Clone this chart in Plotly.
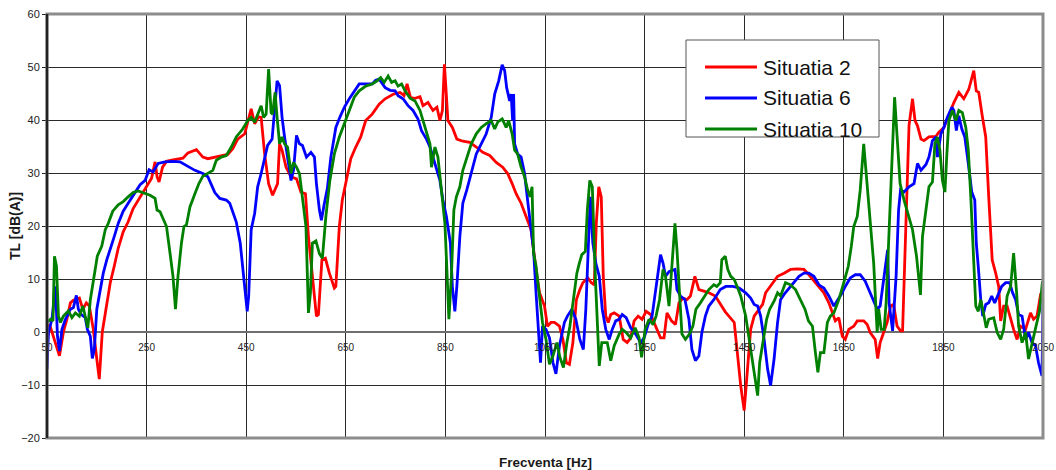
import plotly.graph_objects as go

# ---------------- data ----------------
series_names = ["Situatia 2", "Situatia 6", "Situatia 10"]

red_hz = [50, 55, 75, 83, 90, 97, 103, 115, 122, 129, 135, 143, 150, 155, 161, 170, 177, 185, 193, 203,
          213, 223, 237, 249, 260, 267, 271, 275, 282, 290, 303, 323, 333, 350, 363, 373, 387, 397, 413, 423,
          433, 447, 460, 467, 475, 480, 487, 495, 503, 513, 517, 522, 530, 540, 551, 560, 569, 575, 583, 591,
          595, 602, 609, 617, 627, 630, 637, 643, 651, 660, 670, 680, 690, 703, 717, 729, 746, 759, 767, 773,
          780, 789, 799, 805, 815, 825, 833, 839, 844, 848, 852, 855, 864, 873, 885, 899, 912, 925, 939, 952,
          965, 975, 984, 992, 1002, 1012, 1022, 1032, 1039, 1049, 1055, 1062, 1069, 1079, 1086, 1093, 1099, 1106, 1113, 1120,
          1126, 1136, 1143, 1149, 1153, 1158, 1163, 1167, 1172, 1177, 1182, 1189, 1199, 1207, 1215, 1222, 1229, 1237, 1245, 1253,
          1262, 1272, 1282, 1289, 1295, 1304, 1312, 1319, 1327, 1335, 1342, 1351, 1359, 1369, 1379, 1392, 1400, 1412, 1430, 1437,
          1443, 1450, 1455, 1463, 1470, 1480, 1487, 1493, 1503, 1517, 1530, 1543, 1557, 1570, 1580, 1590, 1600, 1610, 1620, 1627,
          1633, 1640, 1647, 1653, 1660, 1670, 1677, 1690, 1697, 1703, 1713, 1718, 1723, 1730, 1737, 1744, 1750, 1757, 1764, 1768,
          1775, 1781, 1788, 1793, 1798, 1805, 1811, 1821, 1835, 1841, 1851, 1861, 1871, 1881, 1891, 1901, 1911, 1916, 1921, 1928,
          1935, 1941, 1948, 1955, 1961, 1965, 1971, 1978, 1985, 1991, 1998, 2005, 2015, 2025, 2031, 2038, 2045, 2050]
red_tl = [-2, 1.5, -4.5, 0, 2.4, 5.5, 6, 6.4, 4.3, 5.5, 4.9, 0.5, -5.1, -8.9, 0, 5.5, 9.3, 12.4, 15.8, 18.9,
          20.8, 23.3, 25.5, 27.4, 29, 32.1, 29.3, 28.3, 31.1, 32.2, 32.5, 32.8, 33.8, 34.4, 33, 32.7, 33, 33.2, 33.5, 34.6,
          36.4, 37.4, 42.1, 39.3, 40.6, 40.5, 33.6, 28, 25.8, 28, 35.5, 34.3, 31.1, 29.3, 28.9, 26.4, 26.1, 18, 10.5, 3,
          3.3, 13.6, 13.9, 11.1, 8.3, 8.6, 19.9, 24.9, 28.6, 32.7, 34.9, 36.8, 39.9, 41.1, 43, 44, 44.9, 45.2, 44.6, 46.8,
          44.2, 44.1, 44.4, 42.7, 43.3, 41.8, 42.4, 39.9, 41.8, 50.5, 44.6, 39.9, 38.6, 36.4, 36, 35.8, 34.9, 33.9, 33.3, 32,
          31.1, 29.9, 28, 26.1, 24.3, 21.8, 19.3, 11.8, 7.4, 4.9, 1.1, 1.8, 1.8, 1.1, -1.4, -5.8, -6.1, -2, 6.1, 8,
          9.3, 10.2, 9.3, 8.9, 20.5, 27.4, 25.5, 10.5, 3, 1.8, 3.3, 3.6, 3, -1.4, -2, -1.1, 2.1, 3, 2.4, 3.9,
          3.3, 1.1, -1.1, -1.1, 3.6, 2.1, 1.4, 5.5, 6.4, 6.1, 6.8, 10.5, 8, 7.7, 7.4, 6.8, 5.5, 3.8, 1.8, -5.1,
          -10.1, -14.8, -8.4, 0.5, 3, 4.3, 5.2, 7.4, 8.6, 10.5, 11.1, 11.8, 11.9, 11.8, 10.8, 9.6, 8.6, 7.4, 5.5, 3.7,
          2.1, 2.7, -0.8, -1.4, 0.5, 1.1, 2.1, 2.1, 1.4, -0.1, -1.4, -5, -2, -0.1, 1.8, 4.9, 5.2, 1.1, 0.2, 0.2,
          23, 39, 44, 39.9, 38.9, 36.4, 36.1, 36.8, 36.9, 37.7, 38.6, 41.1, 43.3, 45.2, 44, 45.8, 49.3, 45.5, 45.2, 40.8,
          36.8, 25.5, 13.6, 11.1, 8.6, 2.1, 4.9, 4.9, 2.4, 0.5, -1.4, 1.1, 0.5, 3.6, 2.4, 3, 7, 6.8]

blue_hz = [50, 53, 60, 67, 71, 75, 80, 87, 97, 103, 109, 113, 119, 127, 131, 137, 141, 145, 150, 157,
           163, 170, 177, 185, 193, 203, 213, 223, 237, 247, 255, 263, 273, 287, 303, 317, 330, 347, 363, 373,
           380, 387, 397, 410, 417, 422, 430, 438, 443, 449, 452, 455, 460, 467, 473, 480, 487, 493, 502, 508,
           512, 517, 522, 527, 533, 540, 545, 551, 557, 563, 571, 580, 587, 591, 597, 601, 607, 613, 620, 630,
           638, 647, 657, 667, 677, 690, 703, 710, 717, 729, 739, 749, 755, 765, 775, 785, 795, 802, 812, 819,
           825, 832, 839, 845, 852, 860, 864, 869, 873, 879, 885, 893, 902, 912, 922, 932, 942, 949, 957, 964,
           969, 973, 979, 982, 985, 987, 989, 995, 1002, 1009, 1015, 1022, 1027, 1032, 1037, 1041, 1045, 1052, 1059, 1066,
           1072, 1079, 1089, 1095, 1104, 1112, 1120, 1127, 1132, 1137, 1141, 1146, 1152, 1159, 1165, 1172, 1179, 1185, 1192, 1199,
           1205, 1213, 1222, 1232, 1242, 1249, 1257, 1265, 1273, 1282, 1287, 1292, 1299, 1311, 1315, 1322, 1331, 1339, 1345, 1352,
           1359, 1365, 1372, 1379, 1389, 1395, 1402, 1413, 1427, 1440, 1453, 1463, 1470, 1477, 1483, 1490, 1497, 1503, 1510, 1517,
           1523, 1530, 1540, 1550, 1560, 1570, 1580, 1590, 1600, 1610, 1620, 1630, 1639, 1645, 1653, 1663, 1673, 1683, 1693, 1703,
           1710, 1717, 1723, 1731, 1738, 1741, 1748, 1755, 1760, 1764, 1771, 1781, 1791, 1798, 1805, 1815, 1821, 1828, 1835, 1838,
           1845, 1851, 1858, 1867, 1871, 1876, 1881, 1887, 1893, 1900, 1907, 1913, 1916, 1920, 1925, 1929, 1935, 1941, 1947, 1953,
           1960, 1967, 1975, 1983, 1989, 1995, 2001, 2008, 2015, 2021, 2028, 2035, 2041, 2048, 2050]
blue_tl = [-7, 0, 2.4, 8.6, -0.8, -3.6, 0.5, 2.4, 4.3, 4.6, 6.9, 4.3, 3.3, 2.7, 0.5, -0.8, -5, -3.3, 4.3, 8,
           11.1, 13.6, 15.5, 18, 20.5, 22.8, 24.3, 25.8, 27.8, 28.6, 30.6, 30.2, 31.8, 32.1, 32.2, 32.1, 31.4, 30.5, 29.9, 29.3,
           27.8, 26.3, 25.2, 24.9, 24.3, 22.8, 20.8, 16.8, 11.8, 5.5, 3.9, 6.8, 19.3, 22.4, 27.4, 29.9, 33, 35.2, 36.4, 42.4,
           47.4, 46.5, 40.5, 36.8, 33, 28.6, 30.5, 37.1, 35.5, 35.2, 33, 33.9, 33, 28, 23, 21.1, 24.3, 27.1, 33, 38.6,
           40.5, 42.4, 44, 45.5, 46.8, 46.8, 46.8, 47.5, 47.7, 46.1, 45.6, 45.5, 44.6, 44, 42.7, 41.8, 40.2, 38, 36.4, 34.9,
           33, 31.1, 28.6, 24.9, 21.8, 16.8, 8.6, 3.9, 8.6, 18, 24.3, 26.8, 29.9, 33.6, 35.5, 37.4, 40.5, 44.9, 47.4, 50.4,
           49.3, 46.1, 43.6, 44.9, 39.9, 44.9, 35.5, 33.6, 33, 29.9, 24.9, 19.9, 15.5, 7.4, 0.5, -5.8, 1.1, 0.5, -1.1, -5.8,
           -7.9, -2.6, 1.8, 3, 4.3, 2.4, -1.4, -3.3, 4.3, 15.5, 25.5, 16.8, 13, 10.5, 4.3, 0.5, -1.4, 0.5, 2.1, 2.4,
           3.3, 2.7, 0.8, -0.4, -2, -1.1, 1.4, 3, 8.6, 14.6, 13, 10.5, 11.4, 11.8, 8, 6.8, 6.1, 2.4, -3.3, -5.4,
           -4.5, -0.1, 3, 4.9, 6.1, 7.1, 8, 8.6, 8.6, 8.3, 7.4, 6.4, 5.2, 4.9, 3, -1.4, -7, -10.1, -5.1, 1.8,
           6.1, 7.1, 8.3, 9.3, 10.5, 11.1, 11.1, 10.5, 8.9, 8.3, 6.8, 4.9, 6.1, 7.1, 8.6, 10.2, 10.8, 10.8, 9.6, 7.4,
           6.1, 4.3, 4.9, 11.1, 15.5, 5.5, 0.2, 10.5, 23, 26.8, 26.4, 27.4, 28, 31.8, 30.5, 31.6, 33, 36.1, 36.8, 33,
           37.4, 38.6, 40.5, 42.4, 41.8, 38, 40.8, 38.3, 36.8, 31.8, 26.4, 24.9, 16.8, 12.4, 6.1, 3, 5.2, 5.5, 6.8, 5.5,
           7.1, 8.6, 9.3, 9.3, 7.4, 6.1, 3.3, 3, -1.4, -0.1, -2, -2.6, -5.8, -8.3, 5.5]

green_hz = [50, 57, 62, 65, 69, 73, 77, 83, 93, 100, 107, 115, 122, 127, 132, 137, 143, 151, 160, 167,
            173, 182, 193, 203, 213, 223, 233, 243, 257, 267, 271, 277, 283, 290, 297, 303, 308, 313, 320, 325,
            330, 337, 347, 355, 363, 373, 383, 390, 400, 410, 420, 430, 443, 453, 460, 467, 473, 480, 485, 490,
            495, 500, 503, 508, 512, 517, 522, 527, 533, 540, 545, 551, 557, 563, 570, 575, 579, 583, 590, 597,
            603, 610, 618, 627, 637, 647, 657, 667, 677, 690, 703, 713, 720, 727, 735, 742, 749, 755, 762, 769,
            779, 789, 799, 805, 812, 819, 822, 829, 835, 839, 844, 849, 853, 857, 862, 867, 872, 879, 885, 893,
            902, 912, 922, 932, 942, 949, 955, 964, 972, 977, 984, 989, 995, 1002, 1009, 1015, 1020, 1024, 1027, 1032,
            1039, 1045, 1052, 1059, 1066, 1074, 1080, 1087, 1094, 1100, 1107, 1114, 1119, 1124, 1131, 1135, 1140, 1145, 1151, 1155,
            1159, 1164, 1175, 1182, 1189, 1199, 1205, 1213, 1222, 1231, 1239, 1244, 1251, 1259, 1267, 1273, 1280, 1287, 1292, 1299,
            1305, 1311, 1315, 1320, 1325, 1332, 1340, 1347, 1353, 1362, 1371, 1379, 1389, 1395, 1402, 1405, 1412, 1417, 1423, 1430,
            1437, 1443, 1453, 1460, 1467, 1473, 1477, 1481, 1488, 1495, 1501, 1510, 1517, 1523, 1533, 1543, 1553, 1563, 1572, 1579,
            1587, 1593, 1598, 1603, 1610, 1617, 1623, 1630, 1640, 1650, 1659, 1665, 1670, 1677, 1683, 1690, 1697, 1703, 1710, 1717,
            1720, 1725, 1731, 1735, 1741, 1747, 1752, 1758, 1763, 1771, 1781, 1788, 1796, 1800, 1804, 1808, 1815, 1821, 1828, 1833,
            1838, 1843, 1848, 1853, 1857, 1861, 1868, 1875, 1881, 1888, 1895, 1900, 1905, 1909, 1915, 1920, 1925, 1931, 1936, 1941,
            1951, 1958, 1965, 1971, 1978, 1985, 1991, 1997, 2001, 2008, 2015, 2021, 2028, 2036, 2043, 2049]
green_tl = [1.8, 2.4, 2.1, 14.3, 12.4, 3, 1.8, 3, 4, 2.7, 3.6, 3, 4.9, 3, 0.8, 6.1, 9.6, 14.3, 16.2, 19.3,
            20.5, 22.8, 24, 24.6, 25.5, 26.3, 26.6, 26.3, 25.8, 25.2, 23, 22.7, 21.4, 19.9, 14.9, 10.5, 4.3, 10.5, 16.8, 19.9,
            20.2, 23.6, 26.1, 28, 29.4, 29.9, 30.5, 32.4, 33, 33.3, 34.9, 36.8, 38.3, 39.9, 40.5, 39.6, 41.1, 42.7, 40.5, 41.1,
            49.6, 41.4, 41.1, 45.2, 40.5, 35.5, 36.8, 35.5, 34.9, 29.9, 32, 31.1, 29.9, 25.5, 19.9, 3.6, 7.4, 16.8, 17.2, 14.8,
            13.9, 21.8, 28.6, 33.6, 36.8, 39.3, 41.8, 44.3, 45.5, 46.4, 46.8, 47.4, 48, 47.1, 48.3, 47.1, 47.4, 46.4, 46.8, 45.5,
            44.1, 43.6, 41.8, 39.9, 37.4, 35.5, 31.1, 34.9, 33, 29.3, 25.5, 20.5, 11.8, 2.4, 10.5, 23, 25.5, 27.4, 30.5, 33,
            35.5, 37.4, 38.6, 39.3, 39.9, 38.3, 39.6, 40.2, 38.6, 39.9, 37.4, 34.3, 33.6, 31.1, 29.3, 26.8, 25.5, 27.4, 14.9, 12.4,
            6.8, 1.8, -1.4, -6.1, -4.5, -2, -4.8, -6.7, -2, 1.1, 6.1, 11.1, 13, 14.6, 15.2, 23, 28.6, 27.4, 10.5, 1.1,
            -6.4, -2, -2, -5.4, -2.6, -0.4, 0.5, -0.1, -1.1, 0.8, -1.1, -4.8, 0.5, 2.4, 1.4, 3, 6.1, 11.8, 10.5, 4.9,
            13, 20.5, 15.5, 7.4, -0.4, -1.4, -0.4, 1.1, 4.3, 5.5, 6.8, 8, 8.9, 8.6, 9.3, 13.6, 14.3, 11.8, 10.5, 9.9,
            8.3, 6.8, 3, -1.4, -5.8, -9.5, -12, -5.8, -1.4, 2.4, 4.3, 5.8, 7.4, 6.8, 9.3, 8.9, 8, 6.1, 4.3, 2.1,
            1.1, -3.9, -7.6, -3.9, -3.9, 1.8, 3, 3.6, 6.1, 9.3, 12.4, 16.1, 19.9, 21.8, 26.8, 35.5, 28, 20.5, 13, -0.1,
            4.3, 0.5, 0.5, 5.5, 19.9, 32.4, 44.3, 35.5, 28, 24.9, 21.8, 19.3, 14.3, 10.5, 7, 18, 23, 27.4, 28.3, 35.5,
            36.8, 34.3, 28.6, 26.4, 33.6, 39.9, 41.8, 39.9, 41.8, 41.4, 38.6, 34.3, 25.5, 16.8, 4.9, 3.9, 6.1, 3.3, 0.8, 2.4,
            2.7, -0.1, -1.4, 0.5, 6.8, 8.6, 14.9, 7.4, 1.1, -2, -0.1, -5.1, -2, 1.1, 3.9, 9.6]

x_range = [50, 2050]
y_range = [-20, 60]
x_title = "Frecventa [Hz]"
y_title = "TL [dB(A)]"

# ---------------- figure ----------------
FONT = "Liberation Sans, Arial, sans-serif"
colors = ["#FF0000", "#0000FF", "#008000"]

fig = go.Figure()
for name, hz, tl, col in zip(series_names, [red_hz, blue_hz, green_hz],
                             [red_tl, blue_tl, green_tl], colors):
    fig.add_trace(go.Scatter(x=hz, y=tl, mode="lines", name=name,
                             line=dict(color=col, width=2.8), showlegend=False))

L, R, T, B = 47, 13, 14, 32
W, H = 1056, 470
pw, ph = W - L - R, H - T - B


def px_x(p):
    return (p - L) / pw


def px_y(p):
    return (H - B - p) / ph


fig.update_layout(
    template="none",
    width=W, height=H,
    margin=dict(l=L, r=R, t=T, b=B, pad=0, autoexpand=False),
    paper_bgcolor="white", plot_bgcolor="white",
    font=dict(family=FONT, color="#1a1a1a"),
    showlegend=False,
    xaxis=dict(range=x_range, tick0=50, dtick=200, showgrid=True, gridcolor="#2a2a2a", gridwidth=1,
               zeroline=False, showline=False, ticks="", anchor="free", automargin=False,
               position=(0 - y_range[0]) / (y_range[1] - y_range[0]),
               tickfont=dict(size=10, color="#222"), ticklabelstandoff=8),
    yaxis=dict(range=y_range, dtick=10, showgrid=True, gridcolor="#2a2a2a", gridwidth=1,
               zeroline=True, zerolinecolor="#6e6e6e", zerolinewidth=2, automargin=False,
               showline=False, ticks="outside", ticklen=4, tickcolor="#222",
               tickfont=dict(size=11, color="#222")),
)

# plot border (gray) and dark left axis line
fig.add_shape(type="rect", xref="paper", yref="paper", x0=0, x1=1, y0=0, y1=1,
              line=dict(color="#8c8c8c", width=3), layer="above")
fig.add_shape(type="line", xref="paper", yref="paper", x0=0, x1=0, y0=0, y1=1,
              line=dict(color="#222", width=2.5), layer="above")

# axis titles
fig.add_annotation(text="<b>" + x_title + "</b>", xref="paper", yref="paper",
                   x=0.5, y=px_y(462), xanchor="center", yanchor="middle", showarrow=False,
                   font=dict(size=13.5, color="#1a1a1a"))
fig.add_annotation(text="<b>" + y_title + "</b>", xref="paper", yref="paper",
                   x=px_x(15), y=0.5, xanchor="center", yanchor="middle", showarrow=False,
                   textangle=-90, font=dict(size=14, color="#1a1a1a"))

# legend box drawn by hand (long line samples)
fig.add_shape(type="rect", xref="paper", yref="paper", x0=px_x(686), x1=px_x(879),
              y0=px_y(137), y1=px_y(40), line=dict(color="#555", width=1),
              fillcolor="white", layer="above")
for i, (name, col) in enumerate(zip(series_names, colors)):
    yy = px_y(67 + 31 * i)
    fig.add_shape(type="line", xref="paper", yref="paper", x0=px_x(705), x1=px_x(757),
                  y0=yy, y1=yy, line=dict(color=col, width=2.8), layer="above")
    fig.add_annotation(text=name, xref="paper", yref="paper", x=px_x(761), y=yy,
                       xanchor="left", yanchor="middle", showarrow=False,
                       font=dict(size=21, color="#111"))

fig.write_html("out.html", config={"displayModeBar": False},
               post_script="document.body.style.margin='0';document.body.style.overflow='hidden';")
